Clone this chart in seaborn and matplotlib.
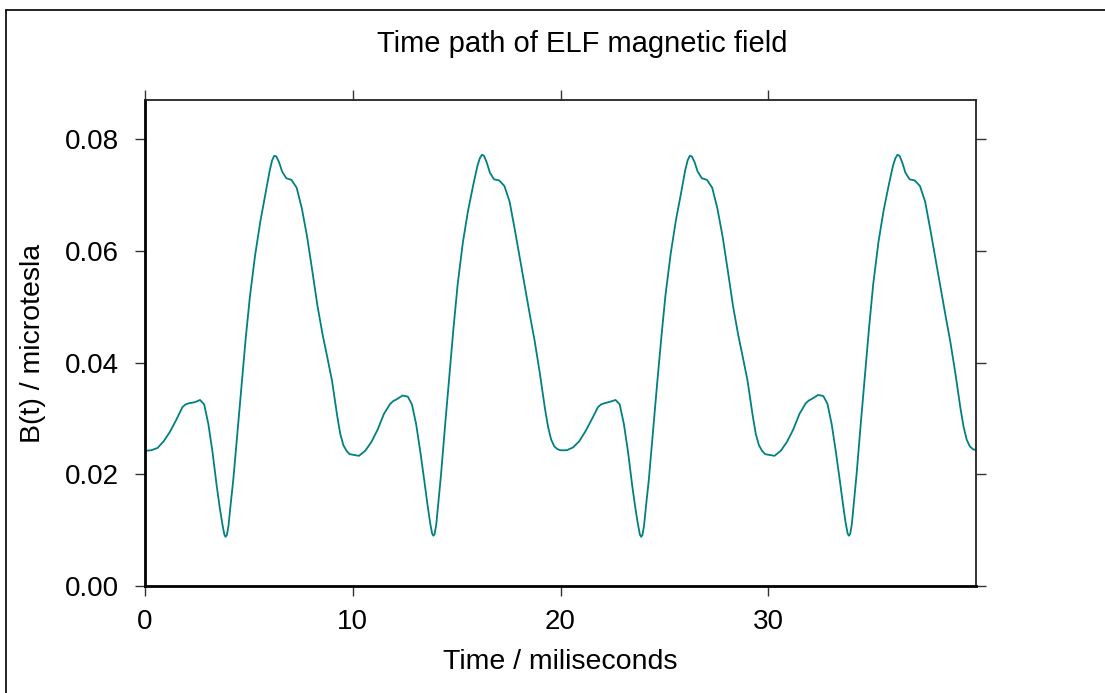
import numpy as np
import pandas as pd
import matplotlib
matplotlib.use("Agg")
import matplotlib.pyplot as plt
from matplotlib.lines import Line2D
import seaborn as sns

# Sample instants within one 10 ms cycle
phase_ms = [0.0, 0.3, 0.6, 0.9, 1.2, 1.5, 1.8, 1.95, 2.1, 2.4, 2.65, 2.85,
            3.05, 3.25, 3.45, 3.6, 3.72, 3.82, 3.88, 3.94, 4.02, 4.12, 4.25,
            4.45, 4.65, 4.85, 5.05, 5.3, 5.55, 5.8, 6.0, 6.12, 6.22, 6.32,
            6.45, 6.6, 6.8, 7.05, 7.3, 7.55, 7.8, 8.05, 8.3, 8.55, 8.75, 9.0,
            9.25, 9.4, 9.55, 9.7, 9.85]

cycle_starts_ms = [0, 10, 20, 30]

# Measured field (microtesla) for each of the four cycles
cycle1 = [0.0242, 0.0243, 0.0247, 0.0259, 0.0276, 0.0297, 0.0320, 0.0325,
          0.0327, 0.0329, 0.0333, 0.0325, 0.0290, 0.0240, 0.0180, 0.0140,
          0.0112, 0.0092, 0.0088, 0.0091, 0.0108, 0.0145, 0.0190, 0.0275,
          0.0362, 0.0444, 0.0518, 0.0592, 0.0652, 0.0702, 0.0743, 0.0762,
          0.0770, 0.0769, 0.0759, 0.0742, 0.0730, 0.0727, 0.0713, 0.0676,
          0.0626, 0.0565, 0.0502, 0.0450, 0.0414, 0.0368, 0.0305, 0.0272,
          0.0252, 0.0242, 0.0236]
cycle2 = [0.0235, 0.0233, 0.0242, 0.0258, 0.0280, 0.0308, 0.0326, 0.0331,
          0.0334, 0.0341, 0.0339, 0.0325, 0.0290, 0.0241, 0.0187, 0.0145,
          0.0114, 0.0094, 0.0090, 0.0093, 0.0110, 0.0150, 0.0200, 0.0290,
          0.0375, 0.0462, 0.0540, 0.0615, 0.0672, 0.0718, 0.0752, 0.0766,
          0.0772, 0.0770, 0.0758, 0.0740, 0.0728, 0.0726, 0.0716, 0.0688,
          0.0638, 0.0585, 0.0532, 0.0480, 0.0440, 0.0382, 0.0318, 0.0285,
          0.0262, 0.0250, 0.0245]
cycle3 = [0.0243, 0.0243, 0.0248, 0.0259, 0.0277, 0.0298, 0.0320, 0.0325,
          0.0327, 0.0330, 0.0333, 0.0325, 0.0290, 0.0240, 0.0180, 0.0140,
          0.0112, 0.0092, 0.0088, 0.0091, 0.0108, 0.0145, 0.0190, 0.0276,
          0.0362, 0.0444, 0.0520, 0.0594, 0.0654, 0.0703, 0.0744, 0.0762,
          0.0770, 0.0769, 0.0759, 0.0742, 0.0730, 0.0727, 0.0713, 0.0676,
          0.0626, 0.0565, 0.0502, 0.0450, 0.0414, 0.0368, 0.0305, 0.0272,
          0.0252, 0.0242, 0.0236]
cycle4 = [0.0235, 0.0233, 0.0242, 0.0258, 0.0280, 0.0308, 0.0327, 0.0332,
          0.0335, 0.0342, 0.0340, 0.0326, 0.0290, 0.0241, 0.0187, 0.0145,
          0.0114, 0.0094, 0.0090, 0.0093, 0.0110, 0.0150, 0.0200, 0.0290,
          0.0375, 0.0462, 0.0540, 0.0615, 0.0672, 0.0718, 0.0752, 0.0766,
          0.0772, 0.0770, 0.0758, 0.0740, 0.0728, 0.0726, 0.0716, 0.0688,
          0.0638, 0.0585, 0.0532, 0.0480, 0.0440, 0.0382, 0.0318, 0.0285,
          0.0262, 0.0250, 0.0245]
end_time_ms = 40.0
end_value = 0.0243

x_ticks = [0, 10, 20, 30]
y_ticks = [0.00, 0.02, 0.04, 0.06, 0.08]

times, values = [], []
for start, cyc in zip(cycle_starts_ms, [cycle1, cycle2, cycle3, cycle4]):
    times.extend(start + p for p in phase_ms)
    values.extend(cyc)
times.append(end_time_ms)
values.append(end_value)
df = pd.DataFrame({"t": times, "B": values})

sns.set_theme(style="ticks")
plt.rcParams["font.family"] = ["Liberation Sans", "DejaVu Sans"]
plt.rcParams["text.color"] = "black"
plt.rcParams["axes.labelcolor"] = "black"

fig = plt.figure(figsize=(11.05, 6.93), dpi=100)
ax = fig.add_axes([0.1312, 0.1544, 0.7521, 0.7013])

sns.lineplot(data=df, x="t", y="B", ax=ax, color="#008080", linewidth=1.3,
             estimator=None, sort=False)

ax.set_xlim(0, 40)
ax.set_ylim(0, 0.087)
ax.set_xticks(x_ticks)
ax.set_xticklabels([str(v) for v in x_ticks])
ax.set_yticks(y_ticks)
ax.set_yticklabels([f"{v:.2f}" for v in y_ticks])

ax.tick_params(axis="both", which="both", direction="out", length=7.5,
               width=1.0, color="#333333", labelsize=20, labelcolor="black")
ax.tick_params(axis="x", top=True, bottom=True, labeltop=False, pad=9)
ax.tick_params(axis="y", left=True, right=True, labelright=False, pad=11)

for side in ["left", "bottom"]:
    ax.spines[side].set_linewidth(2.0)
    ax.spines[side].set_color("black")
for side in ["top", "right"]:
    ax.spines[side].set_visible(True)
    ax.spines[side].set_linewidth(1.3)
    ax.spines[side].set_color("#222222")

ax.set_xlabel("Time / miliseconds", fontsize=20.5, labelpad=10)
ax.set_ylabel("B(t) / microtesla", fontsize=20.5, labelpad=14)

fig.text(0.527, 0.936, "Time path of ELF magnetic field", fontsize=21,
         ha="center", va="center", color="black")

# Outer frame around the figure
x0 = 6 / 1105
y0 = 1 - 10 / 693
fig.add_artist(Line2D([x0, x0], [0, y0], transform=fig.transFigure,
                      color="black", linewidth=1.2))
fig.add_artist(Line2D([x0, 1], [y0, y0], transform=fig.transFigure,
                      color="black", linewidth=1.2))

fig.savefig("out.png", dpi=100, facecolor="white")
